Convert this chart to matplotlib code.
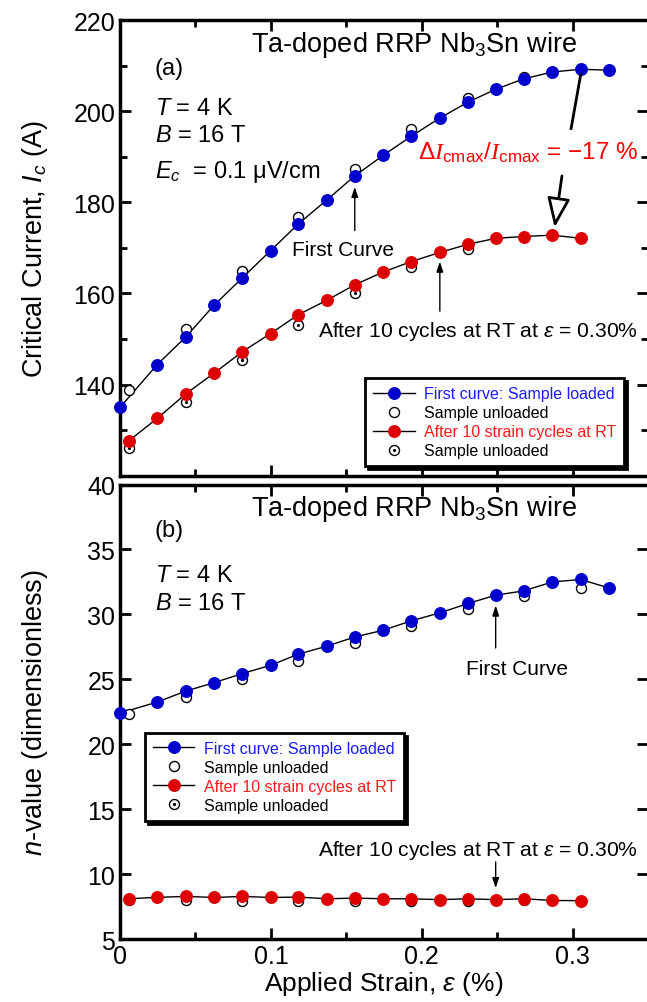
import matplotlib
matplotlib.use("Agg")
import matplotlib.pyplot as plt
from matplotlib.lines import Line2D
from matplotlib.patches import FancyArrowPatch
from matplotlib.ticker import MultipleLocator, FixedLocator

plt.rcParams['font.family'] = ['Liberation Sans', 'DejaVu Sans']
plt.rcParams['mathtext.fontset'] = 'custom'
plt.rcParams['mathtext.rm'] = 'Liberation Sans'
plt.rcParams['mathtext.it'] = 'Liberation Sans:italic'
plt.rcParams['mathtext.bf'] = 'Liberation Sans:bold'
plt.rcParams['mathtext.sf'] = 'Liberation Sans'
plt.rcParams['mathtext.tt'] = 'Liberation Serif:italic'

# strain points (%)
strain_load = [0, 0.0247, 0.0437, 0.0623, 0.081, 0.0998, 0.118, 0.137, 0.1556,
               0.1744, 0.193, 0.212, 0.2307, 0.249, 0.2675, 0.2866, 0.3053, 0.324]
strain_unload = [0.006, 0.0437, 0.081, 0.118, 0.1556, 0.193, 0.2307, 0.2675, 0.3053]
strain_cyc = [0.006, 0.0247, 0.0437, 0.0623, 0.081, 0.0998, 0.118, 0.137, 0.1556,
              0.1744, 0.193, 0.212, 0.2307, 0.249, 0.2675, 0.2866, 0.3053]
strain_cyc_unl = strain_unload[:8]

# critical current (A)
ic_first = [135.0, 144.4, 150.5, 157.4, 163.4, 169.4, 175.2, 180.5, 185.8,
            190.3, 194.5, 198.5, 202.0, 204.8, 207.1, 208.6, 209.2, 209.0]
ic_first_unl = [138.8, 152.3, 165.0, 176.8, 187.4, 196.0, 202.9, 207.4, 209.3]
ic_cyc = [127.7, 132.6, 138.0, 142.5, 147.2, 151.2, 155.3, 158.5, 161.9,
          164.7, 167.0, 169.0, 170.8, 172.1, 172.5, 172.8, 172.1]
ic_cyc_unl = [126.1, 136.2, 145.3, 153.1, 160.1, 165.7, 169.7, 172.3]

# n-value
n_first = [22.4, 23.25, 24.1, 24.74, 25.44, 26.08, 26.93, 27.55, 28.26,
           28.78, 29.5, 30.12, 30.84, 31.48, 31.81, 32.5, 32.69, 32.04]
n_first_unl = [22.3, 23.6, 25.03, 26.44, 27.8, 29.09, 30.45, 31.43, 32.0]
n_cyc = [8.1, 8.21, 8.28, 8.2, 8.28, 8.2, 8.23, 8.1, 8.15,
         8.1, 8.1, 8.03, 8.1, 8.03, 8.1, 7.97, 7.95]
n_cyc_unl = [8.03, 7.97, 7.95, 7.95, 7.9, 7.9, 7.95, 8.03]

BLUE = '#0000cc'
RED = '#dd0000'
MS = 8.3
MS_OPEN = 7.2

fig = plt.figure(figsize=(6.47, 10.03), dpi=100)
ax1 = fig.add_axes([0.1855, 0.5247, 0.8161, 0.4543])
ax2 = fig.add_axes([0.1855, 0.0628, 0.8161, 0.4531])


def draw_series(ax, y_first, y_first_unl, y_cyc, y_cyc_unl):
    ax.plot(strain_load, y_first, '-', color='k', lw=1.0, zorder=2)
    ax.plot(strain_cyc, y_cyc, '-', color='k', lw=1.0, zorder=2)
    ax.plot(strain_unload, y_first_unl, 'o', ms=MS_OPEN, mfc='white', mec='k', mew=1.0, zorder=3)
    ax.plot(strain_cyc_unl, y_cyc_unl, 'o', ms=MS_OPEN, mfc='white', mec='k', mew=1.0, zorder=3)
    ax.plot(strain_cyc_unl, y_cyc_unl, '.', ms=2.5, color='k', zorder=3.5)
    ax.plot(strain_load, y_first, 'o', ms=MS, mfc=BLUE, mec=BLUE, zorder=4, clip_on=False)
    ax.plot(strain_cyc, y_cyc, 'o', ms=MS, mfc=RED, mec=RED, zorder=4)


draw_series(ax1, ic_first, ic_first_unl, ic_cyc, ic_cyc_unl)
draw_series(ax2, n_first, n_first_unl, n_cyc, n_cyc_unl)

for ax in (ax1, ax2):
    ax.set_xlim(0, 0.35)
    ax.xaxis.set_major_locator(FixedLocator([0, 0.1, 0.2, 0.3]))
    ax.xaxis.set_minor_locator(FixedLocator([0.05, 0.15, 0.25]))
    ax.tick_params(which='both', direction='in', top=True, right=True, width=2)
    ax.tick_params(which='major', length=8, labelsize=18)
    ax.tick_params(which='minor', length=5)
    for s in ax.spines.values():
        s.set_linewidth(2.5)

ax1.set_ylim(120, 220)
ax1.yaxis.set_major_locator(FixedLocator([140, 160, 180, 200, 220]))
ax1.yaxis.set_minor_locator(FixedLocator([130, 150, 170, 190, 210]))
ax1.tick_params(labelbottom=False)
ax1.set_ylabel(r'Critical Current, $I_c$ (A)', fontsize=19.5, labelpad=17)

ax2.set_ylim(5, 40)
ax2.yaxis.set_major_locator(MultipleLocator(5))
ax2.set_xticklabels(['0', '0.1', '0.2', '0.3'])
ax2.set_ylabel(r'$n$-value (dimensionless)', fontsize=19.5, labelpad=27)
ax2.set_xlabel(r'Applied Strain, $\varepsilon$ (%)', fontsize=19, labelpad=1)

# panel (a) texts
ax1.text(0.195, 214.7, r'Ta-doped RRP Nb$_3$Sn wire', fontsize=19.5, ha='center', va='center')
ax1.text(0.023, 209.5, '(a)', fontsize=17, ha='left', va='center')
ax1.text(0.023, 200.6, r'$T$ = 4 K', fontsize=17, ha='left', va='center')
ax1.text(0.023, 194.7, r'$B$ = 16 T', fontsize=17, ha='left', va='center')
ax1.text(0.023, 186.8, r'$E_c$  = 0.1 μV/cm', fontsize=17, ha='left', va='center')
ax1.text(0.148, 169.6, 'First Curve', fontsize=15, ha='center', va='center')
ax1.annotate('', xy=(0.1556, 184.0), xytext=(0.1556, 173.2),
             arrowprops=dict(arrowstyle='-|>,head_length=0.6,head_width=0.2', color='k', lw=1.0))
ax1.text(0.237, 151.9, r'After 10 cycles at RT at $\varepsilon$ = 0.30%', fontsize=15.2,
         ha='center', va='center')
ax1.annotate('', xy=(0.212, 167.6), xytext=(0.212, 155.5),
             arrowprops=dict(arrowstyle='-|>,head_length=0.6,head_width=0.2', color='k', lw=1.0))
ax1.text(0.2705, 191.1, r'$\Delta\mathtt{I}_{\mathsf{cmax}}/\mathtt{I}_{\mathsf{cmax}}$ = −17 %',
         fontsize=17.5, color='#ff0000', ha='center', va='center')
ax1.plot([0.3053, 0.299], [207.9, 196.2], '-', color='k', lw=2.0, zorder=5)
ax1.add_patch(FancyArrowPatch((0.2932, 186.4), (0.2878, 173.9),
                              arrowstyle='-|>,head_length=0.9,head_width=0.35',
                              mutation_scale=20, lw=2.0, fc='white', ec='k', zorder=5))

# panel (b) texts
ax2.text(0.195, 38.2, r'Ta-doped RRP Nb$_3$Sn wire', fontsize=19.5, ha='center', va='center')
ax2.text(0.023, 36.5, '(b)', fontsize=17, ha='left', va='center')
ax2.text(0.023, 33.0, r'$T$ = 4 K', fontsize=17, ha='left', va='center')
ax2.text(0.023, 30.9, r'$B$ = 16 T', fontsize=17, ha='left', va='center')
ax2.text(0.263, 25.8, 'First Curve', fontsize=15, ha='center', va='center')
ax2.annotate('', xy=(0.249, 30.9), xytext=(0.249, 27.2),
             arrowprops=dict(arrowstyle='-|>,head_length=0.6,head_width=0.2', color='k', lw=1.0))
ax2.text(0.237, 11.9, r'After 10 cycles at RT at $\varepsilon$ = 0.30%', fontsize=15.2,
         ha='center', va='center')
ax2.annotate('', xy=(0.249, 8.7), xytext=(0.249, 11.15),
             arrowprops=dict(arrowstyle='-|>,head_length=0.6,head_width=0.2', color='k', lw=1.0))

# legends
h_first = Line2D([], [], color='k', lw=1.0, marker='o', ms=MS, mfc=BLUE, mec=BLUE)
h_unl = Line2D([], [], ls='none', marker='o', ms=MS_OPEN, mfc='white', mec='k', mew=1.0)
h_cyc = Line2D([], [], color='k', lw=1.0, marker='o', ms=MS, mfc=RED, mec=RED)
h_dot = Line2D([], [], ls='none', marker='.', ms=2.5, color='k')
labels = ['First curve: Sample loaded', 'Sample unloaded',
          'After 10 strain cycles at RT', 'Sample unloaded']
colors = ['#1a1aff', 'k', '#ff1a1a', 'k']

for ax, anchor in ((ax1, (0.464, 0.021)), (ax2, (0.047, 0.26))):
    leg = ax.legend([h_first, h_unl, h_cyc, (h_unl, h_dot)], labels, loc='lower left',
                    bbox_to_anchor=anchor, fontsize=11.5, frameon=True, fancybox=False,
                    shadow={'color': 'k', 'alpha': 1.0}, edgecolor='k', framealpha=1,
                    handlelength=2.6, labelspacing=0.25, borderpad=0.5, handletextpad=0.6,
                    borderaxespad=0)
    leg.get_frame().set_linewidth(2)
    for t, c in zip(leg.get_texts(), colors):
        t.set_color(c)

fig.savefig('out.png', dpi=100)
